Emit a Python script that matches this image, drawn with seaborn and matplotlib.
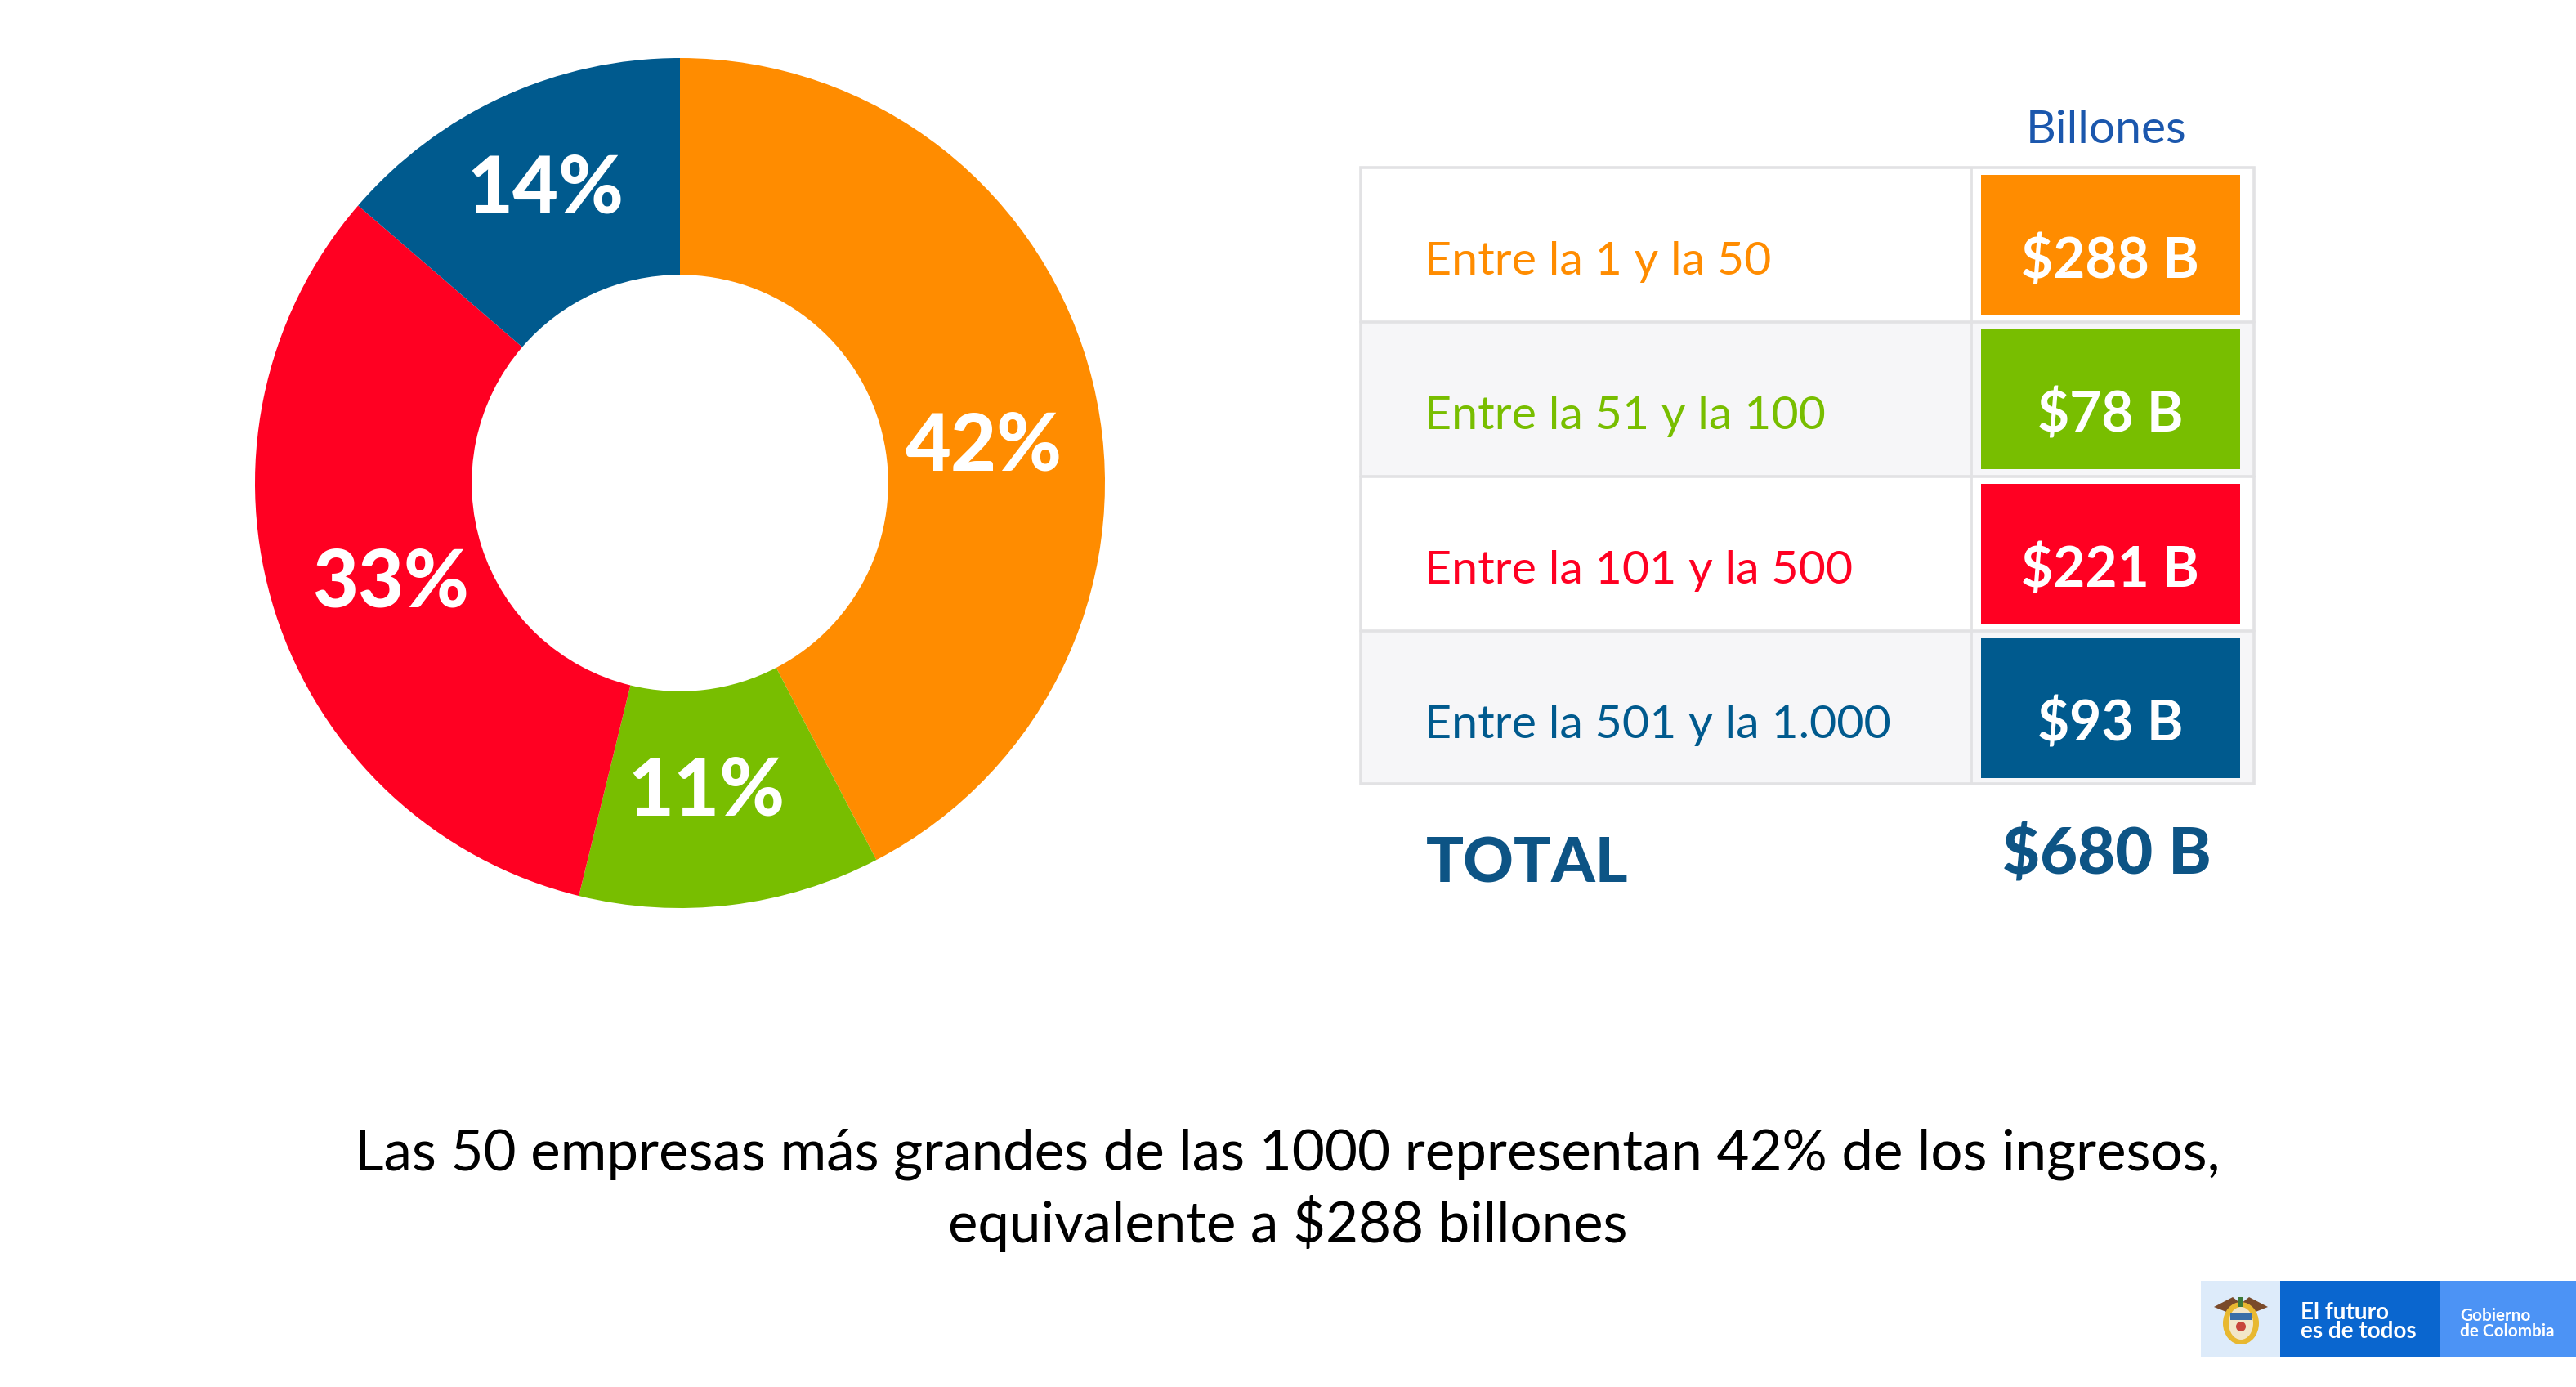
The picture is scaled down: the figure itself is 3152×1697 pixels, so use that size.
import matplotlib
matplotlib.use("Agg")
import numpy as np
import matplotlib.pyplot as plt
import seaborn as sns
from matplotlib.patches import Rectangle, Polygon, Ellipse

# ---------------- data ----------------
segments = ["Entre la 1 y la 50", "Entre la 51 y la 100",
            "Entre la 101 y la 500", "Entre la 501 y la 1.000"]
values_billones = [288, 78, 221, 93]
value_labels = ["$288 B", "$78 B", "$221 B", "$93 B"]
pct_labels = ["42%", "11%", "33%", "14%"]
segment_colors = ["#FF8C00", "#78BE00", "#FF0022", "#005A8E"]
unit_label = "Billones"
total_text = "TOTAL"
total_label = "$680 B"
caption_lines = ["Las 50 empresas más grandes de las 1000 representan 42% de los ingresos,",
                 "equivalente a $288 billones"]
logo_main = ["El futuro", "es de todos"]
logo_side = ["Gobierno", "de Colombia"]

# label placement style (angle nudge in degrees, radial position)
label_nudge_deg = [-7.0, -2.0, 1.5, 0.0]
label_radius = [0.72, 0.73, 0.72, 0.76]

# ---------------- setup ----------------
W, H = 3152, 1697
DPI = 200
sns.set_theme(style="white")
plt.rcParams['font.family'] = ['Lato', 'DejaVu Sans']

fig = plt.figure(figsize=(W / DPI, H / DPI), dpi=DPI, facecolor="white")
renderer = fig.canvas.get_renderer()


def fit(t, target_w):
    t.set_fontsize(40)
    w = t.get_window_extent(renderer=renderer).width
    t.set_fontsize(40 * target_w / w)
    return t.get_fontsize()


# ---------------- donut ----------------
cx, cy, R = 832, 591, 520
ax = fig.add_axes([(cx - R) / W, 1 - (cy + R) / H, 2 * R / W, 2 * R / H])
palette = sns.color_palette(segment_colors)
wedges, _ = ax.pie(values_billones, colors=palette, startangle=90,
                   counterclock=False, radius=1,
                   wedgeprops=dict(width=0.51, linewidth=0, edgecolor="none"))
ax.set_xlim(-1, 1)
ax.set_ylim(-1, 1)
ax.set_aspect("equal")
ax.axis("off")

pct_size = None
for w, lab, nd, r in zip(wedges, pct_labels, label_nudge_deg, label_radius):
    th = np.deg2rad((w.theta1 + w.theta2) / 2 + nd)
    t = ax.text(r * np.cos(th), r * np.sin(th), lab, ha="center", va="center",
                color="white", fontweight="black")
    if pct_size is None:
        pct_size = fit(t, 192)
    else:
        t.set_fontsize(pct_size)

# ---------------- overlay (pixel coords) ----------------
ov = fig.add_axes([0, 0, 1, 1])
ov.set_xlim(0, W)
ov.set_ylim(H, 0)
ov.axis("off")

tx0, tx1, colx = 1665, 2758, 2412
row_tops = [205, 394, 583, 772]
row_h = 188.5
border = "#E2E2E4"
for i, top in enumerate(row_tops):
    if i % 2 == 1:
        ov.add_patch(Rectangle((tx0, top), tx1 - tx0, row_h, facecolor="#F6F6F8",
                               edgecolor="none", zorder=1))
ov.add_patch(Rectangle((tx0, row_tops[0]), tx1 - tx0, row_h * 4, facecolor="none",
                       edgecolor=border, linewidth=1.3, zorder=2))
for top in row_tops[1:]:
    ov.plot([tx0, tx1], [top, top], color=border, lw=1.3, zorder=2)
ov.plot([colx, colx], [row_tops[0], row_tops[0] + 4 * row_h], color=border, lw=1.0, zorder=2)

tmp = ov.text(0, 0, segments[3], fontweight="normal")
label_size = fit(tmp, 571)
tmp.remove()
tmp = ov.text(0, 0, value_labels[0], fontweight="bold")
val_size = fit(tmp, 218)
tmp.remove()

for i, top in enumerate(row_tops):
    ov.add_patch(Rectangle((2424, top + 9), 2741 - 2424, row_h - 18,
                           facecolor=palette[i], edgecolor="none", zorder=3))
    ov.text(1743, top + 131, segments[i], color=palette[i], fontsize=label_size,
            ha="left", va="baseline", zorder=4)
    ov.text(2582, top + 135, value_labels[i], color="white", fontsize=val_size,
            fontweight="bold", ha="center", va="baseline", zorder=4)

t = ov.text(2577, 175, unit_label, color="#1B57AD", ha="center", va="baseline")
fit(t, 196)
t = ov.text(1745, 1080, total_text, color="#0D5485", ha="left", va="baseline",
            fontweight="black")
fit(t, 248)
t = ov.text(2578, 1070, total_label, color="#0D5485", ha="center", va="baseline",
            fontweight="black")
fit(t, 256)

# caption
t1 = ov.text(1575, 1431, caption_lines[0], color="black", ha="center", va="baseline")
cap_size = fit(t1, 2282)
ov.text(1576, 1520, caption_lines[1], color="black", ha="center", va="baseline",
        fontsize=cap_size)

# ---------------- logo ----------------
ov.add_patch(Rectangle((2693, 1567), 2790 - 2693, 93, facecolor="#DDEBFA", edgecolor="none"))
ov.add_patch(Rectangle((2790, 1567), 2985 - 2790, 93, facecolor="#0A66CF", edgecolor="none"))
ov.add_patch(Rectangle((2985, 1567), W - 2985, 93, facecolor="#4C93F5", edgecolor="none"))
ccx, ccy = 2742, 1613
ov.add_patch(Polygon([[ccx - 33, ccy - 14], [ccx - 10, ccy - 26], [ccx, ccy - 18],
                      [ccx + 10, ccy - 26], [ccx + 33, ccy - 14], [ccx + 18, ccy - 8],
                      [ccx - 18, ccy - 8]], closed=True, facecolor="#7A4A2A", edgecolor="none"))
ov.add_patch(Ellipse((ccx, ccy + 6), 44, 52, facecolor="#E8B830", edgecolor="none"))
ov.add_patch(Ellipse((ccx, ccy + 6), 30, 40, facecolor="#F2E6C8", edgecolor="none"))
ov.add_patch(Rectangle((ccx - 13, ccy - 6), 26, 8, facecolor="#3A6EA8", edgecolor="none"))
ov.add_patch(Ellipse((ccx, ccy + 10), 12, 12, facecolor="#C8453A", edgecolor="none"))
ov.add_patch(Rectangle((ccx - 3, ccy - 26), 6, 12, facecolor="#3C7A3A", edgecolor="none"))

tm = ov.text(2815, 1637, logo_main[1], color="white", fontweight="bold", ha="left", va="baseline")
ms = fit(tm, 142)
ov.text(2815, 1614, logo_main[0], color="white", fontweight="bold", ha="left", va="baseline",
        fontsize=ms)
ts = ov.text(3010, 1635, logo_side[1], color="white", fontweight="bold", ha="left", va="baseline")
ss = fit(ts, 116)
ov.text(3010, 1616, logo_side[0], color="white", fontweight="bold", ha="left", va="baseline",
        fontsize=ss)

fig.savefig("out.png", dpi=DPI, facecolor="white")
